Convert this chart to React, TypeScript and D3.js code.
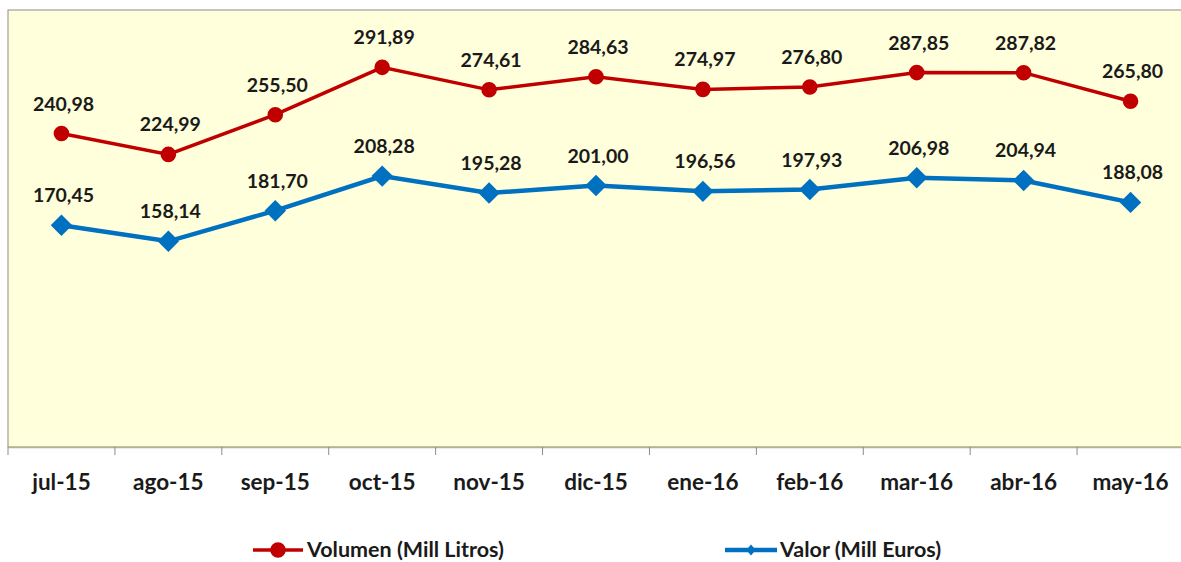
import { useRef, useEffect } from 'react';
import * as d3 from 'd3';

const months = ['jul-15', 'ago-15', 'sep-15', 'oct-15', 'nov-15', 'dic-15', 'ene-16', 'feb-16', 'mar-16', 'abr-16', 'may-16'];
const volumen = [240.98, 224.99, 255.5, 291.89, 274.61, 284.63, 274.97, 276.8, 287.85, 287.82, 265.8];
const valor = [170.45, 158.14, 181.7, 208.28, 195.28, 201.0, 196.56, 197.93, 206.98, 204.94, 188.08];

const width = 1181;
const height = 562;
const fmt = (v: number) => v.toFixed(2).replace('.', ',');

export default function App() {
  const svgRef = useRef<SVGSVGElement | null>(null);

  useEffect(() => {
    if (!svgRef.current) return;
    const svg = d3.select(svgRef.current);
    svg.selectAll('*').remove();

    const left = 8, top = 10, right = 1184, bottom = 447;
    const font = 'Lato, "Open Sans", sans-serif';

    const x = d3.scaleBand<string>().domain(months).range([left, right]);
    const y = d3.scaleLinear().domain([0, 336]).range([bottom, top]);
    const cx = (d: string) => (x(d) ?? 0) + x.bandwidth() / 2;

    // plot area
    svg.append('rect')
      .attr('x', left).attr('y', top)
      .attr('width', right - left).attr('height', bottom - top)
      .attr('fill', '#FFFFDB')
      .attr('stroke', '#8C8C8C').attr('stroke-width', 1);

    // x axis
    const xAxis = svg.append('g')
      .attr('transform', `translate(0,${bottom})`)
      .call(d3.axisBottom(x).tickSize(0).tickFormat(() => ''));
    xAxis.select('.domain').attr('stroke', '#B4B48C').attr('stroke-width', 1.5);
    xAxis.selectAll('.tick').remove();

    const ticks = months.map((m) => x(m) ?? 0).concat([right]);
    svg.append('g').selectAll('line').data(ticks).join('line')
      .attr('x1', (d) => d).attr('x2', (d) => d)
      .attr('y1', bottom).attr('y2', bottom + 8)
      .attr('stroke', '#8C8C8C');

    svg.append('g').selectAll('text').data(months).join('text')
      .attr('x', cx).attr('y', 490)
      .attr('text-anchor', 'middle')
      .attr('font-family', font).attr('font-weight', 'bold')
      .attr('font-size', 22.5).attr('fill', '#1a1a1a')
      .text((d) => d);

    const line = d3.line<number>()
      .x((_, i) => cx(months[i]))
      .y((d) => y(d));

    const series = [
      { data: volumen, color: '#C00000', marker: 'circle', width: 3.5, name: 'Volumen (Mill Litros)' },
      { data: valor, color: '#0070C0', marker: 'diamond', width: 4.5, name: 'Valor (Mill Euros)' },
    ];

    const circle = d3.symbol(d3.symbolCircle, 190)();
    const diamond = d3.symbol(d3.symbolSquare, 230)();

    series.forEach((s) => {
      svg.append('path')
        .datum(s.data)
        .attr('fill', 'none')
        .attr('stroke', s.color)
        .attr('stroke-width', s.width)
        .attr('d', line);

      svg.append('g').selectAll('path').data(s.data).join('path')
        .attr('transform', (d, i) =>
          `translate(${cx(months[i])},${y(d)})` + (s.marker === 'diamond' ? ' rotate(45)' : ''))
        .attr('d', s.marker === 'circle' ? circle : diamond)
        .attr('fill', s.color);

      svg.append('g').selectAll('text').data(s.data).join('text')
        .attr('x', (_, i) => cx(months[i]) + 2)
        .attr('y', (d) => y(d) - 23)
        .attr('text-anchor', 'middle')
        .attr('font-family', font).attr('font-weight', 'bold')
        .attr('font-size', 19.5).attr('fill', '#1a1a1a')
        .text((d) => fmt(d));
    });

    // legend
    const legend = [
      { x0: 253, x1: 303, tx: 307 },
      { x0: 725, x1: 777, tx: 780 },
    ];
    series.forEach((s, i) => {
      const l = legend[i];
      const g = svg.append('g');
      g.append('line')
        .attr('x1', l.x0).attr('x2', l.x1)
        .attr('y1', 550).attr('y2', 550)
        .attr('stroke', s.color).attr('stroke-width', s.width);
      g.append('path')
        .attr('transform', `translate(${(l.x0 + l.x1) / 2},550)` + (s.marker === 'diamond' ? ' scale(0.85,1) rotate(45)' : ''))
        .attr('d', s.marker === 'circle' ? circle : d3.symbol(d3.symbolSquare, 60)())
        .attr('fill', s.color);
      g.append('text')
        .attr('x', l.tx).attr('y', 557)
        .attr('font-family', font).attr('font-weight', 'bold')
        .attr('font-size', 21.5).attr('fill', '#1a1a1a')
        .text(s.name);
    });
  }, []);

  return (
    <svg
      ref={svgRef}
      width={width}
      height={height}
      style={{ position: 'absolute', left: 0, top: 0, background: '#fff' }}
    />
  );
}
